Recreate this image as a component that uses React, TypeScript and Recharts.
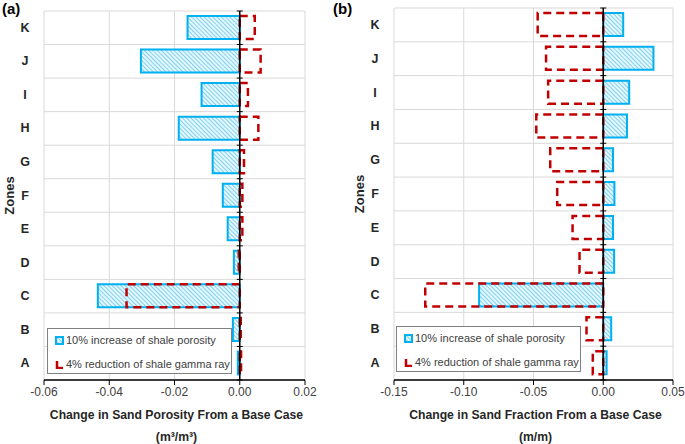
import {
  BarChart,
  Bar,
  XAxis,
  YAxis,
  CartesianGrid,
  ReferenceLine,
} from "recharts";

const zones = ["A", "B", "C", "D", "E", "F", "G", "H", "I", "J", "K"];

// panel (a): change in sand porosity (m3/m3)
const porosityA = [-0.0006, -0.0021, -0.0435, -0.0018, -0.0037, -0.0052, -0.0083, -0.0187, -0.0117, -0.0303, -0.016];
const gammaA = [0.0004, 0.0003, -0.0347, -0.0003, 0.0008, 0.0008, 0.0013, 0.0057, 0.0025, 0.0064, 0.0046];
const ticksA = [-0.06, -0.04, -0.02, 0, 0.02];

// panel (b): change in sand fraction (m/m)
const porosityB = [0.0024, 0.0057, -0.089, 0.0078, 0.007, 0.008, 0.007, 0.017, 0.0186, 0.036, 0.0143];
const gammaB = [-0.0075, -0.012, -0.1276, -0.017, -0.022, -0.033, -0.038, -0.048, -0.0395, -0.041, -0.047];
const ticksB = [-0.15, -0.1, -0.05, 0, 0.05];

const seriesNames = ["10% increase of shale porosity", "4% reduction of shale gamma ray"];

const FONT = '"Liberation Sans", Arial, sans-serif';
const BLUE = "#00b0f0";
const RED = "#c00000";
const GRID = "#d9d9d9";

function LegendBox({ left, top }: { left: number; top: number }) {
  return (
    <div
      style={{
        position: "absolute",
        left,
        top,
        border: "1px solid #808080",
        background: "#fff",
        width: 185,
        height: 46,
        fontFamily: FONT,
        fontSize: 11,
        color: "#404040",
        boxSizing: "border-box",
        padding: "2px 0 0 7px",
        whiteSpace: "nowrap",
      }}
    >
      <div style={{ display: "flex", alignItems: "center", height: 18 }}>
        <svg width={9} height={9} style={{ marginRight: 2 }}>
          <rect x={1} y={1} width={7} height={7} fill="url(#hatch)" stroke={BLUE} strokeWidth={2} />
        </svg>
        <span>{seriesNames[0]}</span>
      </div>
      <div style={{ display: "flex", alignItems: "center", height: 18, marginTop: 6 }}>
        <svg width={9} height={9} style={{ marginRight: 2 }}>
          <path d="M2,1 V8 H8" fill="none" stroke={RED} strokeWidth={2.5} />
        </svg>
        <span>{seriesNames[1]}</span>
      </div>
    </div>
  );
}

function ZeroLine(props: any) {
  const { x1, y1, y2 } = props;
  const n = zones.length;
  const marks = [];
  for (let i = 0; i <= n; i++) {
    const y = y1 + ((y2 - y1) * i) / n;
    marks.push(<line key={i} x1={x1 - 3} x2={x1 + 3} y1={y} y2={y} stroke="#000" strokeWidth={1} />);
  }
  return (
    <g>
      <line x1={x1} x2={x1} y1={y1} y2={y2} stroke="#000" strokeWidth={1.5} />
      {marks}
    </g>
  );
}

function Panel({
  porosity,
  gamma,
  ticks,
  title,
  unit,
  width,
  margin,
}: {
  porosity: number[];
  gamma: number[];
  ticks: number[];
  title: string;
  unit: string;
  width: number;
  margin: { top: number; right: number; bottom: number; left: number };
}) {
  const data = zones.map((z, i) => ({ zone: z, porosity: porosity[i], gamma: gamma[i] }));
  return (
    <BarChart
      width={width}
      height={444}
      data={data}
      layout="vertical"
      margin={margin}
      barCategoryGap="31%"
      style={{ fontFamily: FONT }}
    >
      <defs>
        <pattern id="hatch" patternUnits="userSpaceOnUse" width={3} height={3} patternTransform="rotate(-45)">
          <rect width={3} height={3} fill="#e6f7fd" />
          <line x1={0} y1={0} x2={0} y2={3} stroke="#4fc3f0" strokeWidth={1.4} />
        </pattern>
      </defs>
      <CartesianGrid
        stroke={GRID}
        strokeWidth={1}
        horizontalCoordinatesGenerator={({ offset }: any) =>
          zones.map((_, i) => offset.top + (offset.height * i) / zones.length).concat(offset.top + offset.height)
        }
      />
      <XAxis
        type="number"
        domain={[ticks[0], ticks[ticks.length - 1]]}
        ticks={ticks}
        tickFormatter={(v: number) => v.toFixed(2)}
        axisLine={{ stroke: "#000", strokeWidth: 1.5 }}
        tickLine={{ stroke: "#000" }}
        tickSize={5}
        height={30}
        tick={{ fill: "#404040", fontSize: 12 }}
        label={({ viewBox }: any) => (
          <g>
            <text
              x={viewBox.x + viewBox.width / 2 + 2}
              y={viewBox.y + 39}
              textAnchor="middle"
              fontWeight="bold"
              fontSize={12.2}
              fill="#262626"
            >
              {title}
            </text>
            <text
              x={viewBox.x + viewBox.width / 2 + 2}
              y={viewBox.y + 61}
              textAnchor="middle"
              fontWeight="bold"
              fontSize={12.2}
              fill="#262626"
            >
              {unit}
            </text>
          </g>
        )}
      />
      <YAxis
        yAxisId="blue"
        type="category"
        dataKey="zone"
        reversed
        width={44}
        axisLine={false}
        tickLine={false}
        tick={({ x, y, payload }: any) => (
          <text x={x - 11} y={y} dy={4} textAnchor="middle" fontWeight="bold" fontSize={12.5} fill="#262626">
            {payload.value}
          </text>
        )}
        label={({ viewBox }: any) => (
          <text
            x={viewBox.x + 10}
            y={viewBox.y + viewBox.height / 2}
            transform={`rotate(-90 ${viewBox.x + 10} ${viewBox.y + viewBox.height / 2})`}
            dy={4}
            textAnchor="middle"
            fontWeight="bold"
            fontSize={13}
            fill="#262626"
          >
            Zones
          </text>
        )}
      />
      <YAxis yAxisId="red" type="category" dataKey="zone" reversed hide />
      <Bar
        yAxisId="blue"
        dataKey="porosity"
        name={seriesNames[0]}
        fill="url(#hatch)"
        stroke={BLUE}
        strokeWidth={2}
        barSize={23}
        isAnimationActive={false}
      />
      <Bar
        yAxisId="red"
        dataKey="gamma"
        name={seriesNames[1]}
        fill="none"
        stroke={RED}
        strokeWidth={2.5}
        strokeDasharray="8 5"
        barSize={23}
        isAnimationActive={false}
      />
      <ReferenceLine yAxisId="blue" x={0} shape={(p: any) => <ZeroLine {...p} />} />
    </BarChart>
  );
}

export default function App() {
  return (
    <div style={{ position: "fixed", left: 0, top: 0, width: 685, height: 444, background: "#fff", fontFamily: FONT }}>
      <div style={{ position: "absolute", left: 0, top: 0 }}>
        <Panel
          porosity={porosityA}
          gamma={gammaA}
          ticks={ticksA}
          title="Change in Sand Porosity From a Base Case"
          unit="(m³/m³)"
          width={340}
          margin={{ top: 11, right: 35, bottom: 34, left: 0 }}
        />
      </div>
      <div style={{ position: "absolute", left: 340, top: 0 }}>
        <Panel
          porosity={porosityB}
          gamma={gammaB}
          ticks={ticksB}
          title="Change in Sand Fraction From a Base Case"
          unit="(m/m)"
          width={345}
          margin={{ top: 8, right: 12, bottom: 34, left: 10 }}
        />
      </div>
      <LegendBox left={47} top={328} />
      <LegendBox left={396} top={326} />
      <div style={{ position: "absolute", left: 2, top: 0, fontWeight: "bold", fontSize: 15, color: "#000" }}>(a)</div>
      <div style={{ position: "absolute", left: 333, top: 0, fontWeight: "bold", fontSize: 15, color: "#000" }}>(b)</div>
    </div>
  );
}
